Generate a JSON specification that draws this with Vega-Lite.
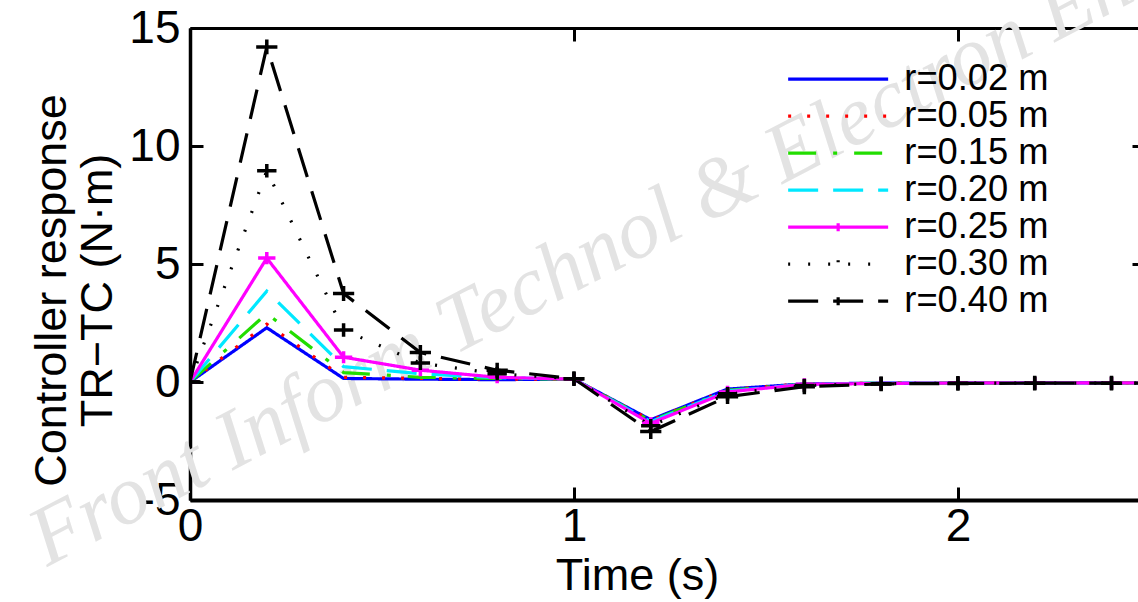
{
  "$schema": "https://vega.github.io/schema/vega-lite/v6.json",
  "width": 948,
  "height": 472,
  "autosize": "none",
  "padding": {"left": 190, "top": 28, "right": 0, "bottom": 102},
  "background": "white",
  "config": {
    "view": {"stroke": null},
    "font": "Liberation Sans",
    "axis": {"grid": false, "domainColor": "black", "tickColor": "black", "labelColor": "black", "titleColor": "black", "labelFont": "Liberation Sans", "titleFont": "Liberation Sans", "titleFontWeight": "normal"}
  },
  "data": {
    "values": [
      {"t": 0, "r": "r=0.02 m", "v": 0}, {"t": 0, "r": "r=0.05 m", "v": 0}, {"t": 0, "r": "r=0.15 m", "v": 0}, {"t": 0, "r": "r=0.20 m", "v": 0}, {"t": 0, "r": "r=0.25 m", "v": 0}, {"t": 0, "r": "r=0.30 m", "v": 0}, {"t": 0, "r": "r=0.40 m", "v": 0},
      {"t": 0.2, "r": "r=0.02 m", "v": 2.3}, {"t": 0.2, "r": "r=0.05 m", "v": 2.45}, {"t": 0.2, "r": "r=0.15 m", "v": 2.9}, {"t": 0.2, "r": "r=0.20 m", "v": 3.85}, {"t": 0.2, "r": "r=0.25 m", "v": 5.25}, {"t": 0.2, "r": "r=0.30 m", "v": 8.95}, {"t": 0.2, "r": "r=0.40 m", "v": 14.2},
      {"t": 0.4, "r": "r=0.02 m", "v": 0.15}, {"t": 0.4, "r": "r=0.05 m", "v": 0.2}, {"t": 0.4, "r": "r=0.15 m", "v": 0.4}, {"t": 0.4, "r": "r=0.20 m", "v": 0.65}, {"t": 0.4, "r": "r=0.25 m", "v": 1.05}, {"t": 0.4, "r": "r=0.30 m", "v": 2.2}, {"t": 0.4, "r": "r=0.40 m", "v": 3.75},
      {"t": 0.6, "r": "r=0.02 m", "v": 0.12}, {"t": 0.6, "r": "r=0.05 m", "v": 0.15}, {"t": 0.6, "r": "r=0.15 m", "v": 0.2}, {"t": 0.6, "r": "r=0.20 m", "v": 0.35}, {"t": 0.6, "r": "r=0.25 m", "v": 0.5}, {"t": 0.6, "r": "r=0.30 m", "v": 0.8}, {"t": 0.6, "r": "r=0.40 m", "v": 1.25},
      {"t": 0.8, "r": "r=0.02 m", "v": 0.1}, {"t": 0.8, "r": "r=0.05 m", "v": 0.12}, {"t": 0.8, "r": "r=0.15 m", "v": 0.15}, {"t": 0.8, "r": "r=0.20 m", "v": 0.18}, {"t": 0.8, "r": "r=0.25 m", "v": 0.2}, {"t": 0.8, "r": "r=0.30 m", "v": 0.35}, {"t": 0.8, "r": "r=0.40 m", "v": 0.5},
      {"t": 1.0, "r": "r=0.02 m", "v": 0.12}, {"t": 1.0, "r": "r=0.05 m", "v": 0.12}, {"t": 1.0, "r": "r=0.15 m", "v": 0.12}, {"t": 1.0, "r": "r=0.20 m", "v": 0.12}, {"t": 1.0, "r": "r=0.25 m", "v": 0.12}, {"t": 1.0, "r": "r=0.30 m", "v": 0.14}, {"t": 1.0, "r": "r=0.40 m", "v": 0.14},
      {"t": 1.2, "r": "r=0.02 m", "v": -1.6}, {"t": 1.2, "r": "r=0.05 m", "v": -1.62}, {"t": 1.2, "r": "r=0.15 m", "v": -1.65}, {"t": 1.2, "r": "r=0.20 m", "v": -1.68}, {"t": 1.2, "r": "r=0.25 m", "v": -1.75}, {"t": 1.2, "r": "r=0.30 m", "v": -1.85}, {"t": 1.2, "r": "r=0.40 m", "v": -2.1},
      {"t": 1.4, "r": "r=0.02 m", "v": -0.3}, {"t": 1.4, "r": "r=0.05 m", "v": -0.32}, {"t": 1.4, "r": "r=0.15 m", "v": -0.35}, {"t": 1.4, "r": "r=0.20 m", "v": -0.38}, {"t": 1.4, "r": "r=0.25 m", "v": -0.42}, {"t": 1.4, "r": "r=0.30 m", "v": -0.5}, {"t": 1.4, "r": "r=0.40 m", "v": -0.62},
      {"t": 1.6, "r": "r=0.02 m", "v": -0.08}, {"t": 1.6, "r": "r=0.05 m", "v": -0.08}, {"t": 1.6, "r": "r=0.15 m", "v": -0.09}, {"t": 1.6, "r": "r=0.20 m", "v": -0.1}, {"t": 1.6, "r": "r=0.25 m", "v": -0.1}, {"t": 1.6, "r": "r=0.30 m", "v": -0.15}, {"t": 1.6, "r": "r=0.40 m", "v": -0.2},
      {"t": 1.8, "r": "r=0.02 m", "v": -0.05}, {"t": 1.8, "r": "r=0.05 m", "v": -0.05}, {"t": 1.8, "r": "r=0.15 m", "v": -0.05}, {"t": 1.8, "r": "r=0.20 m", "v": -0.05}, {"t": 1.8, "r": "r=0.25 m", "v": -0.06}, {"t": 1.8, "r": "r=0.30 m", "v": -0.07}, {"t": 1.8, "r": "r=0.40 m", "v": -0.08},
      {"t": 2.0, "r": "r=0.02 m", "v": -0.04}, {"t": 2.0, "r": "r=0.05 m", "v": -0.04}, {"t": 2.0, "r": "r=0.15 m", "v": -0.04}, {"t": 2.0, "r": "r=0.20 m", "v": -0.04}, {"t": 2.0, "r": "r=0.25 m", "v": -0.04}, {"t": 2.0, "r": "r=0.30 m", "v": -0.05}, {"t": 2.0, "r": "r=0.40 m", "v": -0.06},
      {"t": 2.2, "r": "r=0.02 m", "v": -0.04}, {"t": 2.2, "r": "r=0.05 m", "v": -0.04}, {"t": 2.2, "r": "r=0.15 m", "v": -0.04}, {"t": 2.2, "r": "r=0.20 m", "v": -0.04}, {"t": 2.2, "r": "r=0.25 m", "v": -0.04}, {"t": 2.2, "r": "r=0.30 m", "v": -0.05}, {"t": 2.2, "r": "r=0.40 m", "v": -0.05},
      {"t": 2.4, "r": "r=0.02 m", "v": -0.04}, {"t": 2.4, "r": "r=0.05 m", "v": -0.04}, {"t": 2.4, "r": "r=0.15 m", "v": -0.04}, {"t": 2.4, "r": "r=0.20 m", "v": -0.04}, {"t": 2.4, "r": "r=0.25 m", "v": -0.04}, {"t": 2.4, "r": "r=0.30 m", "v": -0.05}, {"t": 2.4, "r": "r=0.40 m", "v": -0.05},
      {"t": 2.6, "r": "r=0.02 m", "v": -0.04}, {"t": 2.6, "r": "r=0.05 m", "v": -0.04}, {"t": 2.6, "r": "r=0.15 m", "v": -0.04}, {"t": 2.6, "r": "r=0.20 m", "v": -0.04}, {"t": 2.6, "r": "r=0.25 m", "v": -0.04}, {"t": 2.6, "r": "r=0.30 m", "v": -0.05}, {"t": 2.6, "r": "r=0.40 m", "v": -0.05}
    ]
  },
  "layer": [
    {
      "data": {"values": [{"label": "Front Inform Technol & Electron Eng"}]},
      "mark": {"type": "text", "font": "Liberation Serif", "fontStyle": "italic", "fontSize": 84, "color": "#e3e3e3", "angle": -27.5, "align": "left", "baseline": "alphabetic"},
      "encoding": {
        "text": {"field": "label", "type": "nominal"},
        "x": {"datum": -0.372, "type": "quantitative", "axis": null},
        "y": {"datum": -7.84, "type": "quantitative", "axis": null}
      }
    },
    {
      "mark": {"type": "line", "clip": true, "strokeWidth": 3.2},
      "encoding": {
        "x": {"field": "t", "type": "quantitative", "scale": {"domain": [0, 2.469], "nice": false, "zero": false},
          "axis": {"orient": "bottom", "values": [0, 1, 2], "format": "d", "labelFontSize": 46, "tickSize": -13, "tickWidth": 3, "domainWidth": 4, "labelPadding": 17, "labelOverlap": false, "labelFlush": false, "title": "Time (s)", "titleFontSize": 45, "titleX": 447, "titlePadding": 4}},
        "y": {"field": "v", "type": "quantitative", "scale": {"domain": [-5, 15], "nice": false, "zero": false},
          "axis": {"orient": "left", "values": [-5, 0, 5, 10, 15], "labelExpr": "datum.value < 0 ? '-' + abs(datum.value) : '' + datum.value", "labelFontSize": 46, "tickSize": -13, "tickWidth": 3, "domainWidth": 3.5, "labelPadding": 23, "labelOverlap": false, "labelFlush": false, "title": ["Controller response", "TR−TC (N·m)"], "titleFontSize": 45, "titleLineHeight": 46, "titlePadding": 8, "titleY": 262}},
        "color": {"field": "r", "type": "nominal",
          "scale": {"domain": ["r=0.02 m", "r=0.05 m", "r=0.15 m", "r=0.20 m", "r=0.25 m", "r=0.30 m", "r=0.40 m"], "range": ["#0000ff", "#ff0000", "#22dd00", "#00e8ff", "#ff00ff", "#000000", "#000000"]},
          "legend": {"title": null, "orient": "none", "legendX": 630, "legendY": 33, "symbolType": "M-5,0H5", "symbolSize": 400, "symbolStrokeWidth": 3.2, "labelFontSize": 36.3, "labelColor": "black", "labelOffset": 48, "rowPadding": 0, "padding": 0,
            "encode": {"symbols": {"update": {"shape": {"signal": "indexof(['r=0.25 m','r=0.30 m','r=0.40 m'], datum.value) >= 0 ? 'M0,-0.4V0.4M-5,0H5' : 'M-5,0H5'"}}}}}},
        "strokeDash": {"field": "r", "type": "nominal",
          "scale": {"domain": ["r=0.02 m", "r=0.05 m", "r=0.15 m", "r=0.20 m", "r=0.25 m", "r=0.30 m", "r=0.40 m"], "range": [[1, 0], [3, 16], [28, 17, 4, 17], [30, 15], [1, 0], [2, 18], [30, 15]]},
          "legend": {"title": null, "orient": "none", "legendX": 630, "legendY": 33, "symbolType": "M-5,0H5", "symbolSize": 400, "symbolStrokeWidth": 3.2, "labelFontSize": 36.3, "labelColor": "black", "labelOffset": 48, "rowPadding": 0, "padding": 0,
            "encode": {"symbols": {"update": {"shape": {"signal": "indexof(['r=0.25 m','r=0.30 m','r=0.40 m'], datum.value) >= 0 ? 'M0,-0.4V0.4M-5,0H5' : 'M-5,0H5'"}}}}}}
      }
    },
    {
      "transform": [{"filter": {"field": "r", "oneOf": ["r=0.25 m", "r=0.30 m", "r=0.40 m"]}}],
      "mark": {"type": "point", "shape": "M-1,0H1M0,-0.7V0.7", "filled": false, "strokeWidth": 3.5, "clip": true, "opacity": 1},
      "encoding": {
        "x": {"field": "t", "type": "quantitative", "axis": {"orient": "top", "values": [0, 1, 2], "labels": false, "tickSize": -13, "tickWidth": 3, "domainWidth": 3, "title": null}},
        "y": {"field": "v", "type": "quantitative", "axis": {"orient": "right", "values": [5, 10], "labels": false, "tickSize": -6, "tickWidth": 3, "domain": false, "title": null}},
        "stroke": {"field": "r", "type": "nominal", "scale": {"domain": ["r=0.25 m", "r=0.30 m", "r=0.40 m"], "range": ["#ff00ff", "#000000", "#000000"]}, "legend": null},
        "size": {"field": "r", "type": "nominal", "scale": {"domain": ["r=0.25 m", "r=0.30 m", "r=0.40 m"], "range": [300, 450, 450]}, "legend": null}
      }
    }
  ],
  "resolve": {"axis": {"x": "independent", "y": "independent"}}
}
